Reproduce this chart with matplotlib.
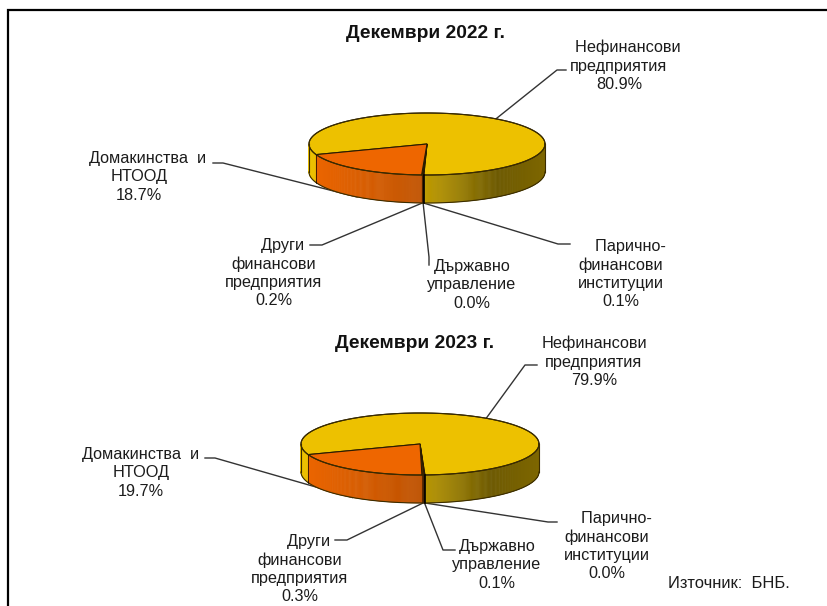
import numpy as np
import matplotlib
matplotlib.use('Agg')
import matplotlib.pyplot as plt
from matplotlib.patches import Polygon

plt.rcParams['font.family'] = ['Liberation Sans', 'DejaVu Sans']

# Data (leading spaces: the first lines sit off centre in the original)
sectors_2022 = ['    Нефинансови\nпредприятия', '    Парично-\nфинансови\nинституции', 'Държавно\nуправление',
                '    Други\nфинансови\nпредприятия', '    Домакинства  и\nНТООД']
sectors_2023 = ['Нефинансови\nпредприятия', '    Парично-\nфинансови\nинституции', 'Държавно\nуправление',
                '    Други\nфинансови\nпредприятия', 'Домакинства  и\nНТООД']
values_2022 = [80.9, 0.1, 0.0, 0.2, 18.7]
values_2023 = [79.9, 0.0, 0.1, 0.3, 19.7]
title_2022 = 'Декември 2022 г.'
title_2023 = 'Декември 2023 г.'
source = 'Източник:  БНБ.'

colors = ['#EDC100', '#3A2A00', '#000000', '#5A2A00', '#EE6600']
TEXT = '#1c1c1c'
START = 200.0  # pie starts here and runs clockwise
RY = 31
DEPTH = 28


def point(cx, cy, rx, a):
    return cx + rx * np.cos(np.radians(a)), cy - RY * np.sin(np.radians(a))


def shade(a):
    # side of the pie gets darker towards the right
    return np.interp(np.cos(np.radians(a)), [-1, 0, 0.6, 1], [1.0, 0.8, 0.46, 0.53])


def draw_pie(ax, names, values, cx, cy, rx, label_pos, elbows, ends):
    total = sum(values)
    a = START
    limits = []
    for v in values:
        limits.append((a - v / total * 360, a))
        a -= v / total * 360

    # leader lines go under the pie
    for i, (lo, hi) in enumerate(limits):
        mid = (lo + hi) / 2
        x, y = point(cx, cy, rx, mid)
        if i > 0:
            y += DEPTH
        ax.plot([x, elbows[i][0], ends[i][0]], [y, elbows[i][1], ends[i][1]],
                color='#333333', lw=1.0, zorder=1)
        pct = f'{values[i]:.1f}%'
        ax.text(label_pos[i][0], label_pos[i][1], names[i] + '\n' + pct, ha='center', va='center',
                fontsize=11.7, color=TEXT, linespacing=1.28, zorder=6)

    # side wall, only the front half is visible
    for i, (lo, hi) in enumerate(limits):
        for w_lo, w_hi in [(lo, hi), (lo + 360, hi + 360), (lo - 360, hi - 360)]:
            s, e = max(w_lo, 180), min(w_hi, 360)
            if e <= s:
                continue
            steps = max(int((e - s) / 0.5), 1)
            grid = np.linspace(s, e, steps + 1)
            for g0, g1 in zip(grid[:-1], grid[1:]):
                x0, y0 = point(cx, cy, rx, g0)
                x1, y1 = point(cx, cy, rx, g1)
                c = np.array(matplotlib.colors.to_rgb(colors[i])) * shade((g0 + g1) / 2)
                ax.add_patch(Polygon([(x0, y0), (x1, y1), (x1, y1 + DEPTH), (x0, y0 + DEPTH)],
                                     facecolor=c, edgecolor=c, lw=0.4, zorder=2))

    # top face
    for i, (lo, hi) in enumerate(limits):
        if hi - lo <= 0:
            continue
        ang = np.linspace(lo, hi, 200)
        xs, ys = point(cx, cy, rx, ang)
        pts = [(cx, cy)] + list(zip(xs, ys))
        ax.add_patch(Polygon(pts, closed=True, facecolor=colors[i], edgecolor='#2a1c00', lw=0.8, zorder=3))

    # outlines
    ang = np.linspace(0, 360, 400)
    xs, ys = point(cx, cy, rx, ang)
    ax.plot(xs, ys, color='#3a2c00', lw=0.8, zorder=4)
    ang = np.linspace(180, 360, 200)
    xs, ys = point(cx, cy, rx, ang)
    ax.plot(xs, ys + DEPTH, color='#3a2c00', lw=0.8, zorder=4)
    for a0 in (180, 360):
        x, y = point(cx, cy, rx, a0)
        ax.plot([x, x], [y, y + DEPTH], color='#3a2c00', lw=0.8, zorder=4)
    # edge of the slices on the wall
    for a0 in (limits[-1][0], limits[0][0]):
        x, y = point(cx, cy, rx, a0 % 360)
        ax.plot([x, x], [y, y + DEPTH], color='#000000', lw=1.2 if a0 != limits[-1][0] else 0.5, zorder=4)


fig = plt.figure(figsize=(8.28, 6.06), dpi=100)
ax = fig.add_axes([0, 0, 1, 1])
ax.set_xlim(0, 828)
ax.set_ylim(606, 0)
ax.axis('off')

# frame: only left and top
ax.plot([8, 8, 828], [606, 10, 10], color='black', lw=1.6, solid_joinstyle='miter', zorder=5)

ax.text(426, 33, title_2022, ha='center', va='center', fontsize=13.8, fontweight='bold', color='#111111')
ax.text(415, 344, title_2023, ha='center', va='center', fontsize=13.8, fontweight='bold', color='#111111')

draw_pie(ax, sectors_2022, values_2022, 427, 144, 118,
         [(619, 66), (621, 274), (472, 285), (274, 273), (139, 177)],
         [(557, 70), (558, 244), (429, 257), (322, 245), (223, 163)],
         [(566, 70), (570, 244), (429, 265), (310, 245), (213, 163)])
draw_pie(ax, sectors_2023, values_2023, 420, 444, 119,
         [(594, 362), (607, 546), (497, 565), (300, 569), (141, 473)],
         [(525, 365), (548, 522), (443, 550), (347, 540), (215, 458)],
         [(537, 365), (557, 522), (455, 550), (335, 540), (205, 458)])

ax.text(729, 584, source, ha='center', va='center', fontsize=11.9, color=TEXT)

fig.savefig('out.png', dpi=100)
